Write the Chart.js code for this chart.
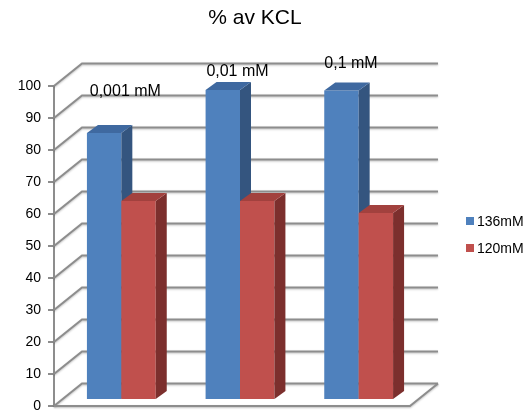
<!DOCTYPE html>
<html>
<head>
<meta charset="utf-8">
<script src="https://cdn.jsdelivr.net/npm/chart.js@4.4.1/dist/chart.umd.min.js"></script>
<style>
  html, body { margin: 0; padding: 0; background: #ffffff; }
  #wrap { width: 526px; height: 413px; }
</style>
</head>
<body>
<div id="wrap"><canvas id="c" width="526" height="413"></canvas></div>
<script>
// Concentrations on the category axis
const categories = ['0,001 mM', '0,01 mM', '0,1 mM'];
// Series names
const seriesNames = ['136mM', '120mM'];
// Percent of KCl response
const values136 = [83.4, 96.9, 96.7];
const values120 = [62.2, 62.2, 58.4];
// Value axis
const yMin = 0, yMax = 100, yStep = 10;

const chartTitle = '% av KCL';
const FONT = '"Liberation Sans", Arial, sans-serif';

const faceColors = {
  '136mM': { front: '#4f81bd', side: '#34557f', top: '#3f69a0' },
  '120mM': { front: '#c0504d', side: '#7c2f2d', top: '#a2413e' }
};

// Depth of the 3D box (back wall offset) and of each bar
const WALL_DX = 28, WALL_DY = -22.5;
const BAR_SHIFT_X = 8, BAR_SHIFT_Y = -6;
const BAR_DX = 11, BAR_DY = -8;

const gridStroke = (ctx) => {
  ctx.strokeStyle = '#8d8d8d';
  ctx.lineWidth = 2;
  ctx.shadowColor = 'rgba(0,0,0,0.25)';
  ctx.shadowOffsetY = 1;
  ctx.shadowBlur = 2;
};

function drawFaces(ctx, meta, col) {
  meta.data.forEach((bar) => {
    const { x, y, base, width } = bar.getProps(['x', 'y', 'base', 'width'], true);
    const l = x - width / 2, r = x + width / 2;
    // side face
    ctx.fillStyle = col.side;
    ctx.beginPath();
    ctx.moveTo(r, y);
    ctx.lineTo(r + BAR_DX, y + BAR_DY);
    ctx.lineTo(r + BAR_DX, base + BAR_DY);
    ctx.lineTo(r, base);
    ctx.closePath();
    ctx.fill();
    // top face
    ctx.fillStyle = col.top;
    ctx.beginPath();
    ctx.moveTo(l, y);
    ctx.lineTo(l + BAR_DX, y + BAR_DY);
    ctx.lineTo(r + BAR_DX, y + BAR_DY);
    ctx.lineTo(r, y);
    ctx.closePath();
    ctx.fill();
  });
}

const box3d = {
  id: 'box3d',
  beforeDatasetsDraw(chart, args, opts) {
    const { ctx, chartArea: a, scales: { x, y } } = chart;

    // back wall lines and their links to the front axis
    ctx.save();
    gridStroke(ctx);
    for (let v = yMin; v <= yMax; v += yStep) {
      const yf = y.getPixelForValue(v);
      ctx.beginPath();
      ctx.moveTo(a.left, yf);
      ctx.lineTo(a.left + WALL_DX, yf + WALL_DY);
      ctx.lineTo(a.right + WALL_DX, yf + WALL_DY);
      ctx.stroke();
    }
    // floor front edge and right side edge
    const y0 = y.getPixelForValue(yMin);
    ctx.beginPath();
    ctx.moveTo(a.left, y0);
    ctx.lineTo(a.right, y0);
    ctx.lineTo(a.right + WALL_DX, y0 + WALL_DY);
    ctx.stroke();
    ctx.restore();

    // bars stand slightly behind the front plane; series drawn left to right
    // so that each bar's front face covers its left neighbour's side face
    ctx.save();
    ctx.translate(BAR_SHIFT_X, BAR_SHIFT_Y);
    chart.data.datasets.forEach((ds, i) => {
      const meta = chart.getDatasetMeta(i);
      if (!meta.visible) return;
      meta.controller.draw();
      drawFaces(ctx, meta, faceColors[ds.label]);
    });
    ctx.restore();

    // concentration labels floating above each group
    ctx.save();
    ctx.fillStyle = '#000';
    ctx.font = '16px ' + FONT;
    ctx.textAlign = 'center';
    ctx.textBaseline = 'middle';
    categories.forEach((c, i) => {
      const cx = x.getPixelForValue(i) + BAR_SHIFT_X + opts.labelShift[i];
      const cy = y.getPixelForValue(opts.labelLevel[i]);
      ctx.fillText(c, cx, cy);
    });

    // title
    ctx.font = '21px ' + FONT;
    ctx.fillText(chartTitle, 255, 18);

    // legend
    ctx.font = '14px ' + FONT;
    ctx.textAlign = 'left';
    chart.data.datasets.forEach((ds, i) => {
      const ly = 221 + i * 27;
      ctx.fillStyle = faceColors[ds.label].front;
      ctx.fillRect(466, ly - 4, 8, 8);
      ctx.fillStyle = '#000';
      ctx.fillText(ds.label, 477, ly + 1);
    });
    ctx.restore();

    // datasets already drawn above
    return false;
  }
};

new Chart(document.getElementById('c'), {
  type: 'bar',
  data: {
    labels: categories,
    datasets: [
      { label: seriesNames[0], data: values136, backgroundColor: faceColors['136mM'].front },
      { label: seriesNames[1], data: values120, backgroundColor: faceColors['120mM'].front }
    ]
  },
  options: {
    responsive: false,
    animation: false,
    devicePixelRatio: 1,
    layout: { padding: { left: 0, top: 86, right: 116, bottom: 7 } },
    datasets: { bar: { categoryPercentage: 0.58, barPercentage: 1.0, borderWidth: 0 } },
    scales: {
      x: { display: false, grid: { display: false } },
      y: {
        min: yMin, max: yMax,
        ticks: { stepSize: yStep, color: '#000', font: { family: FONT, size: 14 }, padding: 7 },
        grid: { drawOnChartArea: false, drawTicks: true, tickLength: 6, color: '#8d8d8d', lineWidth: 2 },
        border: { display: true, color: '#8d8d8d', width: 2 },
        afterFit(scale) {
          scale.width = 54;
          scale.paddingTop = 0;
          scale.paddingBottom = 0;
        }
      }
    },
    plugins: {
      legend: { display: false },
      title: { display: false },
      tooltip: { enabled: false },
      box3d: { labelLevel: [98.1, 104.4, 106.9], labelShift: [4, -2.5, -7.7] }
    }
  },
  plugins: [box3d]
});
</script>
</body>
</html>
